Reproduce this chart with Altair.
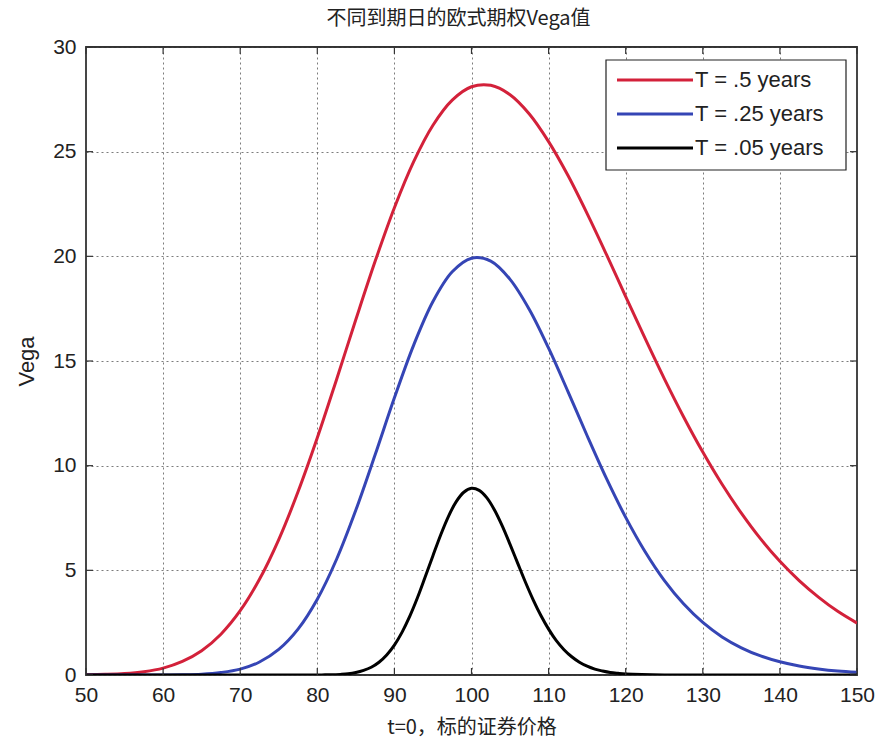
import altair as alt
import pandas as pd

TITLE = "不同到期日的欧式期权Vega值"
X_TITLE = "t=0，标的证券价格"
Y_TITLE = "Vega"
LEGEND_LABELS = ["T = .5 years", "T = .25 years", "T = .05 years"]
COLORS = ["#d3213a", "#3545b5", "#000000"]

X_TICKS = [50, 60, 70, 80, 90, 100, 110, 120, 130, 140, 150]
Y_TICKS = [0, 5, 10, 15, 20, 25, 30]

PRICE_WIDE = [50, 52.5, 55, 57.5, 60, 62.5, 65, 67.5, 70, 72.5, 75, 77.5, 80, 82.5,
              85, 87.5, 90, 92.5, 95, 97.5, 100, 102.5, 105, 107.5, 110, 112.5, 115,
              117.5, 120, 122.5, 125, 127.5, 130, 132.5, 135, 137.5, 140, 142.5, 145,
              147.5, 150]
VEGA_T050 = [0.01, 0.03, 0.07, 0.16, 0.33, 0.65, 1.16, 1.95, 3.07, 4.57, 6.47, 8.75,
             11.33, 14.12, 16.98, 19.76, 22.32, 24.52, 26.26, 27.46, 28.10, 28.17,
             27.72, 26.80, 25.48, 23.87, 22.04, 20.09, 18.08, 16.09, 14.16, 12.34,
             10.65, 9.11, 7.73, 6.50, 5.43, 4.51, 3.72, 3.04, 2.48]
VEGA_T025 = [0.0, 0.0, 0.0, 0.0, 0.0, 0.01, 0.04, 0.12, 0.28, 0.62, 1.22, 2.19, 3.62,
             5.53, 7.88, 10.52, 13.24, 15.76, 17.84, 19.26, 19.91, 19.77, 18.90, 17.46,
             15.61, 13.55, 11.43, 9.39, 7.53, 5.90, 4.52, 3.40, 2.51, 1.82, 1.30, 0.91,
             0.63, 0.43, 0.29, 0.19, 0.13]

PRICE_SHORT = [50, 55, 60, 65, 70, 75,
               80, 81, 82, 83, 84, 85, 86, 87, 88, 89,
               90, 91, 92, 93, 94, 95, 96, 97, 98, 99,
               100, 101, 102, 103, 104, 105, 106, 107, 108, 109,
               110, 111, 112, 113, 114, 115, 116, 117, 118, 119,
               120, 125, 130, 135, 140, 145, 150]
VEGA_T005 = [0, 0, 0, 0, 0, 0,
             0.00, 0.01, 0.01, 0.03, 0.06, 0.12, 0.22, 0.37, 0.61, 0.96,
             1.43, 2.05, 2.81, 3.70, 4.69, 5.70, 6.69, 7.57, 8.27, 8.73,
             8.92, 8.82, 8.46, 7.87, 7.11, 6.24, 5.33, 4.43, 3.59, 2.84,
             2.19, 1.64, 1.21, 0.87, 0.61, 0.42, 0.28, 0.19, 0.12, 0.08,
             0.05, 0, 0, 0, 0, 0, 0]

W, H = 771, 628
LATIN = "Liberation Sans"
CJK = "Noto Sans CJK SC"

x_scale = alt.Scale(domain=[50, 150], nice=False, zero=False)
y_scale = alt.Scale(domain=[0, 30], nice=False)
x_axis = alt.Axis(values=X_TICKS, title=X_TITLE, format="d", labelPadding=9,
                  labelFlush=False, titlePadding=12, titleFont=CJK, titleFontSize=20)
y_axis = alt.Axis(values=Y_TICKS, title=Y_TITLE, format="d", labelPadding=10,
                  labelFlush=False, titlePadding=14, titleFont=LATIN, titleFontSize=22)

series = [
    (PRICE_WIDE, VEGA_T050, COLORS[0]),
    (PRICE_WIDE, VEGA_T025, COLORS[1]),
    (PRICE_SHORT, VEGA_T005, COLORS[2]),
]

layers = []
for xs, ys, col in series:
    df = pd.DataFrame({"S": xs, "vega": ys})
    layers.append(
        alt.Chart(df).mark_line(color=col, strokeWidth=3, interpolate="catmull-rom",
                                clip=True)
        .encode(x=alt.X("S:Q", scale=x_scale, axis=x_axis),
                y=alt.Y("vega:Q", scale=y_scale, axis=y_axis))
    )

xt = pd.DataFrame({"S": X_TICKS})
yt = pd.DataFrame({"vega": Y_TICKS})
tick_col = "#333333"
layers += [
    alt.Chart(xt).mark_rule(color=tick_col, strokeWidth=1.2).encode(
        x=alt.X("S:Q", scale=x_scale, axis=x_axis), y=alt.value(H), y2=alt.value(H - 7)),
    alt.Chart(xt).mark_rule(color=tick_col, strokeWidth=1.2).encode(
        x=alt.X("S:Q", scale=x_scale, axis=x_axis), y=alt.value(0), y2=alt.value(7)),
    alt.Chart(yt).mark_rule(color=tick_col, strokeWidth=1.2).encode(
        y=alt.Y("vega:Q", scale=y_scale, axis=y_axis), x=alt.value(0), x2=alt.value(7)),
    alt.Chart(yt).mark_rule(color=tick_col, strokeWidth=1.2).encode(
        y=alt.Y("vega:Q", scale=y_scale, axis=y_axis), x=alt.value(W), x2=alt.value(W - 7)),
]

one = pd.DataFrame({"a": [0]})
layers.append(
    alt.Chart(one).mark_rect(fill="white", stroke="#222222", strokeWidth=1.2).encode(
        x=alt.value(520), x2=alt.value(760), y=alt.value(13), y2=alt.value(123))
)
for i, (lab, col) in enumerate(zip(LEGEND_LABELS, COLORS)):
    yy = 33 + 34 * i
    layers.append(
        alt.Chart(one).mark_rule(color=col, strokeWidth=3).encode(
            x=alt.value(531), x2=alt.value(607), y=alt.value(yy))
    )
    layers.append(
        alt.Chart(one).mark_text(text=lab, align="left", baseline="middle", fontSize=22,
                                 font=LATIN, color="#222222").encode(
            x=alt.value(609), y=alt.value(yy))
    )

chart = alt.layer(*layers).properties(
    width=W, height=H,
    title=alt.TitleParams(TITLE, font=CJK, fontSize=20, fontWeight="normal",
                          color="#222222", anchor="middle", dx=-13, offset=7),
    padding={"left": 86, "top": 47, "right": 18, "bottom": 71},
    autosize=alt.AutoSizeParams(type="none"),
    background="white",
).configure_view(
    stroke="#333333", strokeWidth=1.8
).configure_axis(
    grid=True, gridDash=[2, 3], gridColor="#444444", gridOpacity=0.7, gridWidth=1,
    domain=False, ticks=False, tickSize=0,
    labelFont=LATIN, labelFontSize=21, labelColor="#222222",
    titleColor="#222222", titleFontWeight="normal",
)

chart.save("out.html", embed_options={"renderer": "svg", "actions": False})
